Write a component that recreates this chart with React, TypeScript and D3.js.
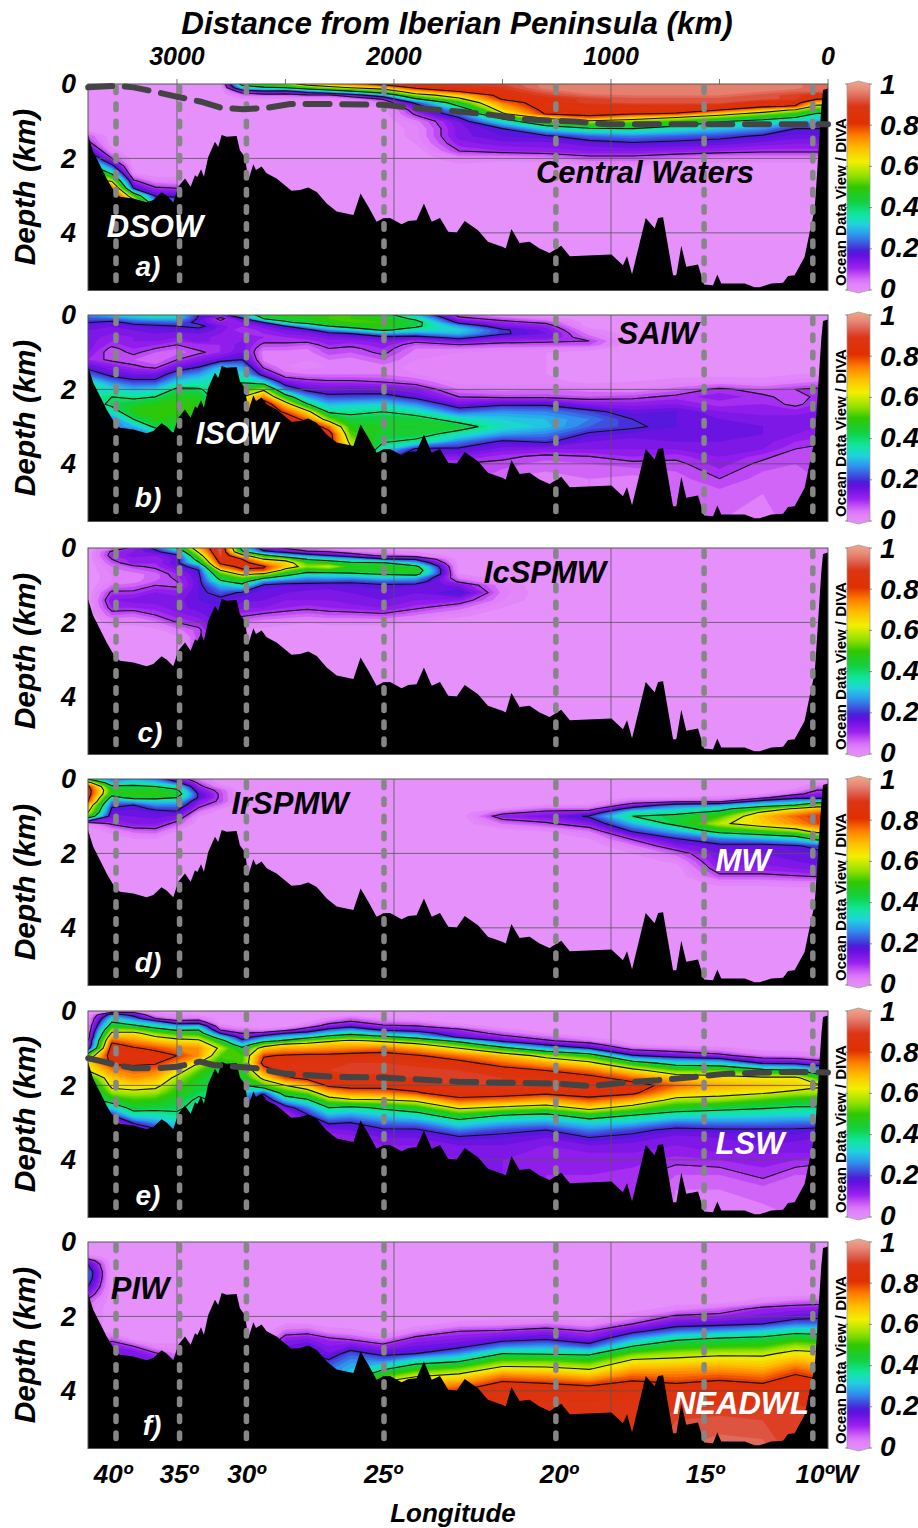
import React from "react";
import * as d3 from "d3";

type Profile = Record<number, number>;

// section geometry
const sectionKm = [3410, 3300, 3200, 3100, 3000, 2900, 2800, 2700, 2600, 2500, 2400, 2300, 2200, 2050, 1900, 1700, 1500, 1300, 1100, 900, 700, 500, 300, 150, 50, 0];
const depthRows = [0, 0.1, 0.2, 0.3, 0.4, 0.5, 0.6, 0.7, 0.8, 0.9, 1, 1.2, 1.4, 1.6, 1.8, 2, 2.2, 2.4, 2.6, 2.8, 3, 3.2, 3.4, 3.6, 3.8, 4, 4.4, 4.8, 5.55];

const bathyKm = [3410, 3386, 3355, 3324, 3293, 3263, 3201, 3140, 3109, 3071, 3048, 3017, 2994, 2963, 2937, 2917, 2906, 2889, 2876, 2856, 2825, 2810, 2794, 2771, 2725, 2710, 2687, 2671, 2648, 2636, 2610, 2587, 2541, 2472, 2433, 2395, 2356, 2310, 2264, 2187, 2154, 2118, 2080, 2049, 2018, 1965, 1934, 1896, 1862, 1826, 1788, 1750, 1711, 1674, 1613, 1567, 1498, 1485, 1459, 1421, 1375, 1329, 1283, 1229, 1190, 998, 945, 926, 903, 840, 799, 783, 760, 714, 699, 676, 653, 599, 571, 530, 510, 492, 384, 338, 315, 261, 207, 184, 154, 108, 84, 61, 46, 31, 23, 0];
const bathyDepth = [1.37, 1.82, 2.18, 2.54, 2.85, 3.03, 3.08, 3.18, 3.12, 2.91, 3.0, 3.18, 2.76, 2.54, 2.76, 2.45, 2.5, 2.29, 2.49, 1.96, 1.55, 1.69, 1.37, 1.42, 1.4, 1.78, 1.96, 2.58, 2.16, 2.31, 2.22, 2.4, 2.54, 2.87, 2.85, 2.78, 2.9, 3.21, 3.43, 3.52, 2.94, 3.3, 3.7, 3.61, 3.6, 3.77, 3.68, 3.66, 3.21, 3.7, 3.6, 3.97, 3.99, 3.68, 3.93, 4.24, 4.38, 4.42, 3.9, 4.27, 4.24, 4.42, 4.54, 4.35, 4.63, 4.58, 4.87, 4.63, 5.11, 3.6, 3.88, 3.6, 3.58, 5.14, 5.14, 4.35, 4.91, 4.85, 5.39, 5.41, 5.12, 5.36, 5.36, 5.46, 5.46, 5.36, 5.34, 5.16, 5.14, 4.65, 3.97, 3.35, 2.0, 0.65, 0.16, 0.12];

const lonLabels = ["40º", "35º", "30º", "25º", "20º", "15º", "10ºW"];
const lonKm = [3281, 2988, 2680, 2046, 1254, 571, 70];
const lonLabelKm = [3295, 2992, 2680, 2050, 1240, 567, 5];
const distanceTicks = [3000, 2000, 1000, 0];
const distanceMinor = [2500, 1500, 500];
const depthTicks = [0, 2, 4];
const barTicks = [0, 0.2, 0.4, 0.6, 0.8, 1];
const contourLevels = [0.1, 0.2, 0.4, 0.6, 0.8];

const dashAKm = [3409, 3278, 3201, 3124, 3002, 2894, 2802, 2694, 2587, 2479, 2280, 2049, 1896, 1705, 1551, 1398, 1167, 1014, 0];
const dashADepth = [0.09, 0.05, 0.09, 0.18, 0.34, 0.47, 0.63, 0.68, 0.64, 0.54, 0.54, 0.56, 0.65, 0.74, 0.83, 0.95, 1.01, 1.08, 1.08];
const dashEKm = [3409, 3355, 3278, 3201, 3094, 3002, 2894, 2833, 2771, 2679, 2633, 2510, 2280, 2049, 1705, 1551, 1244, 1091, 937, 783, 630, 476, 169, 0];
const dashEDepth = [1.27, 1.34, 1.45, 1.54, 1.54, 1.5, 1.36, 1.45, 1.48, 1.52, 1.54, 1.68, 1.77, 1.79, 1.9, 1.92, 1.95, 2.02, 1.92, 1.86, 1.78, 1.69, 1.63, 1.65];

// fractions x100, one profile per sectionKm entry, {depth: value}; a missing depth keeps the value above it
const panelA: Profile[] = [
  { 1.4: 8, 1.6: 12, 1.8: 20, 2: 30, 2.2: 45, 2.4: 60, 2.6: 70, 2.8: 80, 3: 88 },
  { 1.8: 3, 2: 10, 2.2: 22, 2.4: 38, 2.6: 58, 2.8: 78, 3: 88 },
  { 2.4: 2, 2.6: 11, 2.8: 20, 3: 50, 3.2: 70 },
  { 2.6: 4, 2.8: 11, 3: 19, 3.2: 30 },
  { 2.6: 3, 2.8: 10, 3: 18, 3.2: 28 },
  {},
  {},
  { 0: 45, 0.1: 32, 0.2: 13, 0.3: 6, 0.4: 2, 0.5: 0 },
  { 0: 50, 0.1: 38, 0.2: 18, 0.3: 7, 0.4: 2, 0.5: 0 },
  { 0: 55, 0.1: 40, 0.2: 16, 0.3: 7, 0.4: 2, 0.5: 0 },
  { 0: 65, 0.1: 48, 0.2: 24, 0.3: 9, 0.4: 3, 0.5: 0 },
  { 0: 70, 0.1: 55, 0.2: 30, 0.3: 9, 0.4: 3, 0.5: 0 },
  { 0: 75, 0.1: 60, 0.2: 38, 0.3: 14, 0.4: 5, 0.5: 2, 0.6: 0 },
  { 0: 84, 0.1: 66, 0.2: 50, 0.3: 28, 0.4: 11, 0.5: 5, 0.6: 3, 0.7: 0 },
  { 0: 88, 0.1: 82, 0.2: 68, 0.3: 55, 0.4: 39, 0.5: 22, 0.6: 16, 0.7: 13, 0.8: 11, 0.9: 8, 1: 5, 1.2: 3, 1.6: 2, 1.8: 0 },
  { 0: 88, 0.1: 86, 0.2: 80, 0.3: 66, 0.4: 58, 0.5: 47, 0.6: 40, 0.7: 30, 0.8: 25, 0.9: 20, 1: 16, 1.2: 15, 1.6: 13, 1.8: 10, 2: 4, 2.2: 1, 2.4: 0 },
  { 0: 90, 0.1: 88, 0.2: 86, 0.3: 84, 0.4: 81, 0.5: 75, 0.6: 70, 0.7: 65, 0.8: 58, 0.9: 43, 1: 35, 1.2: 20, 1.4: 18, 1.6: 15, 1.8: 12, 2: 3, 2.2: 0 },
  { 0: 95, 0.2: 92, 0.3: 89, 0.4: 86, 0.5: 85, 0.7: 83, 0.8: 81, 0.9: 64, 1: 50, 1.2: 33, 1.4: 19, 1.6: 15, 1.8: 13, 2: 4, 2.2: 0 },
  { 0: 96, 0.3: 93, 0.4: 89, 0.6: 86, 0.7: 85, 0.8: 83, 0.9: 77, 1: 58, 1.2: 39, 1.4: 24, 1.6: 17, 1.8: 14, 2: 8, 2.2: 2, 2.4: 0 },
  { 0: 96, 0.3: 94, 0.4: 91, 0.6: 85, 0.8: 81, 0.9: 67, 1: 54, 1.2: 40, 1.4: 26, 1.6: 19, 1.8: 14, 2: 8, 2.2: 2, 2.4: 0 },
  { 0: 96, 0.3: 94, 0.4: 91, 0.6: 86, 0.7: 84, 0.8: 79, 0.9: 60, 1: 50, 1.2: 35, 1.4: 24, 1.6: 18, 1.8: 13, 2: 6, 2.2: 0 },
  { 0: 96, 0.3: 94, 0.4: 91, 0.6: 84, 0.7: 80, 0.8: 65, 0.9: 53, 1: 41, 1.2: 31, 1.4: 22, 1.6: 17, 1.8: 12, 2: 4, 2.2: 0 },
  { 0: 96, 0.2: 94, 0.3: 91, 0.5: 84, 0.6: 82, 0.7: 68, 0.8: 55, 0.9: 45, 1: 37, 1.2: 27, 1.4: 19, 1.6: 15, 1.8: 11, 2: 4, 2.2: 0 },
  { 0: 95, 0.2: 92, 0.3: 89, 0.5: 84, 0.6: 79, 0.7: 58, 0.8: 49, 0.9: 40, 1: 32, 1.2: 20, 1.4: 17, 1.6: 14, 1.8: 11, 2: 4, 2.2: 0 },
  { 0: 92, 0.3: 85, 0.4: 81, 0.5: 68, 0.6: 56, 0.7: 48, 0.8: 39, 0.9: 33, 1: 29, 1.2: 20, 1.4: 17, 1.6: 14, 1.8: 11, 2: 4, 2.2: 0 },
  { 0: 92, 0.3: 85, 0.4: 81, 0.5: 68, 0.6: 56, 0.7: 48, 0.8: 39, 0.9: 33, 1: 29, 1.2: 20, 1.4: 17, 1.6: 14, 1.8: 11, 2: 4, 2.2: 0 },
];

const panelB: Profile[] = [
  { 0: 27, 0.1: 23, 0.2: 20, 0.3: 17, 0.4: 16, 0.5: 15, 1: 14, 1.2: 12, 1.4: 18, 1.6: 25, 1.8: 35 },
  { 0: 32, 0.1: 24, 0.2: 18, 0.3: 16, 0.4: 15, 0.5: 14, 0.6: 13, 0.7: 12, 0.8: 11, 0.9: 9, 1: 8, 1.2: 9, 1.4: 14, 1.6: 18, 1.8: 26, 2: 34, 2.2: 40, 2.4: 42, 2.6: 35, 2.8: 25 },
  { 0: 35, 0.1: 28, 0.2: 22, 0.3: 18, 0.4: 16, 0.5: 15, 0.6: 14, 0.8: 13, 0.9: 12, 1: 11, 1.2: 8, 1.4: 11, 1.6: 16, 1.8: 22, 2: 30, 2.2: 38, 2.4: 45, 2.6: 48, 2.8: 40, 3: 30, 3.2: 20 },
  { 0: 38, 0.1: 30, 0.2: 23, 0.3: 19, 0.4: 17, 0.5: 16, 0.6: 15, 0.7: 14, 0.8: 12, 0.9: 10, 1: 8, 1.2: 6, 1.4: 9, 1.6: 16, 1.8: 22, 2: 32, 2.2: 40, 2.4: 48, 2.6: 50, 2.8: 48, 3: 42, 3.2: 30 },
  { 0: 36, 0.1: 30, 0.2: 24, 0.3: 20, 0.4: 17, 0.5: 15, 0.6: 14, 0.7: 12, 0.8: 10, 0.9: 8, 1: 7, 1.2: 10, 1.4: 16, 1.6: 24, 1.8: 32, 2: 42, 2.2: 47, 2.4: 49, 2.8: 47, 3: 45, 3.2: 40 },
  { 0: 20, 0.1: 19, 0.2: 18, 0.3: 22, 0.4: 18, 0.5: 16, 0.6: 15, 0.8: 11, 1: 9, 1.2: 14, 1.4: 20, 1.6: 28, 1.8: 35, 2: 41, 2.2: 46, 2.4: 48 },
  { 0: 15, 0.1: 8, 0.2: 12, 0.3: 15, 0.5: 14, 0.6: 13, 0.8: 12, 1: 12, 1.2: 17, 1.4: 30, 1.6: 35 },
  { 0: 30, 0.1: 18, 0.2: 14, 0.3: 12, 0.4: 10, 0.5: 12, 0.6: 14, 0.8: 15, 1: 16, 1.2: 20, 1.4: 28, 1.6: 33, 1.8: 39, 2: 48, 2.2: 60 },
  { 0: 46, 0.1: 40, 0.2: 20, 0.3: 15, 0.4: 13, 0.5: 12, 0.7: 11, 0.8: 9, 0.9: 7, 1: 5, 1.4: 9, 1.6: 17, 1.8: 33, 2: 58, 2.2: 73, 2.4: 88 },
  { 0: 48, 0.1: 44, 0.2: 38, 0.3: 20, 0.4: 16, 0.5: 14, 0.6: 12, 0.7: 11, 0.8: 9, 0.9: 7, 1: 5, 1.2: 4, 1.6: 7, 1.8: 15, 2: 26, 2.2: 46, 2.4: 66, 2.6: 78, 2.8: 88 },
  { 0: 48, 0.1: 47, 0.2: 44, 0.3: 30, 0.4: 18, 0.5: 15, 0.6: 13, 0.7: 11, 0.8: 8, 0.9: 6, 1: 5, 1.2: 4, 1.4: 3, 1.6: 6, 1.8: 12, 2: 18, 2.2: 28, 2.4: 41, 2.6: 64, 2.8: 76, 3: 88 },
  { 0: 50, 0.2: 48, 0.3: 40, 0.4: 27, 0.5: 18, 0.6: 15, 0.7: 13, 0.8: 12, 0.9: 10, 1: 9, 1.2: 6, 1.4: 4, 1.6: 6, 1.8: 11, 2: 16, 2.2: 22, 2.4: 30, 2.6: 38, 2.8: 54, 3: 75, 3.2: 85 },
  { 0: 50, 0.3: 45, 0.4: 32, 0.5: 20, 0.6: 16, 0.7: 13, 0.8: 11, 0.9: 9, 1: 8, 1.2: 5, 1.4: 4, 1.6: 6, 1.8: 11, 2: 17, 2.2: 22, 2.4: 31, 2.6: 38, 2.8: 43, 3: 48, 3.2: 52, 3.4: 57, 3.6: 62 },
  { 0: 45, 0.1: 47, 0.2: 50, 0.3: 48, 0.4: 42, 0.5: 28, 0.6: 18, 0.7: 15, 0.8: 13, 0.9: 12, 1: 11, 1.2: 8, 1.4: 5, 1.6: 6, 1.8: 10, 2: 16, 2.2: 23, 2.4: 32, 2.6: 40, 2.8: 44, 3: 46, 3.2: 44, 3.4: 41, 3.6: 34, 3.8: 25 },
  { 0: 30, 0.1: 38, 0.2: 44, 0.3: 42, 0.4: 35, 0.5: 26, 0.6: 17, 0.7: 11, 0.8: 8, 0.9: 6, 1: 5, 1.2: 4, 1.4: 3, 1.6: 4, 1.8: 8, 2: 14, 2.2: 18, 2.4: 27, 2.6: 36, 2.8: 44, 3: 46, 3.2: 44, 3.4: 38, 3.6: 19, 3.8: 14, 4: 10 },
  { 0: 8, 0.1: 12, 0.2: 18, 0.3: 28, 0.4: 33, 0.5: 30, 0.6: 23, 0.7: 15, 0.8: 10, 0.9: 6, 1: 4, 1.2: 3, 1.4: 2, 1.8: 3, 2: 6, 2.2: 10, 2.4: 16, 2.6: 24, 2.8: 36, 3: 44, 3.2: 36, 3.4: 26, 3.6: 19, 3.8: 14, 4: 10 },
  { 0: 3, 0.1: 8, 0.2: 12, 0.3: 15, 0.4: 21, 0.6: 15, 0.7: 12, 0.8: 8, 0.9: 5, 1: 3, 1.4: 2, 1.8: 3, 2: 5, 2.2: 9, 2.4: 19, 2.6: 27, 2.8: 32, 3: 35, 3.2: 28, 3.4: 19, 3.6: 15, 3.8: 11, 4: 9, 4.4: 6 },
  { 0: 0, 0.1: 4, 0.2: 9, 0.3: 13, 0.4: 15, 0.5: 16, 0.6: 15, 0.7: 11, 0.8: 8, 0.9: 4, 1: 2, 1.8: 3, 2: 6, 2.2: 9, 2.4: 19, 2.6: 26, 2.8: 30, 3: 31, 3.2: 26, 3.4: 21, 3.6: 14, 3.8: 9, 4: 7, 4.4: 5 },
  { 0.4: 3, 0.5: 5, 0.6: 7, 0.7: 10, 0.8: 8, 0.9: 3, 1: 1, 2: 5, 2.2: 8, 2.4: 14, 2.6: 22, 2.8: 26, 3: 24, 3.2: 19, 3.4: 16, 3.6: 14, 3.8: 10, 4: 8, 4.4: 6 },
  { 1.4: 1, 1.8: 2, 2: 4, 2.2: 9, 2.4: 13, 2.6: 17, 2.8: 20, 3: 21, 3.2: 17, 3.4: 15, 3.6: 14, 3.8: 12, 4: 9, 4.4: 5 },
  { 1.4: 1, 1.8: 3, 2: 7, 2.2: 11, 2.4: 14, 2.6: 18, 3.2: 17, 3.4: 16, 3.6: 14, 3.8: 11, 4: 9, 4.4: 7 },
  { 1.6: 1, 1.8: 4, 2: 11, 2.2: 13, 2.4: 11, 2.6: 14, 2.8: 16, 3: 17, 3.4: 16, 3.6: 15, 3.8: 14, 4: 13, 4.4: 10, 4.8: 7, 5.55: 6 },
  { 1.6: 1, 1.8: 3, 2: 8, 2.2: 11, 2.4: 12, 2.6: 13, 2.8: 15, 3: 16, 3.4: 15, 3.6: 14, 3.8: 11, 4: 9, 4.4: 7, 4.8: 6, 5.55: 5 },
  { 1.6: 2, 1.8: 5, 2: 10, 2.2: 8, 2.4: 9, 2.6: 13, 2.8: 15, 3.2: 14, 3.4: 12, 3.6: 10, 3.8: 8, 4.4: 7 },
  { 1.6: 2, 1.8: 6, 2: 11, 2.4: 12, 2.6: 14, 2.8: 15, 3: 14, 3.2: 13, 3.4: 11, 3.6: 9, 3.8: 8 },
  { 1.6: 2, 1.8: 6, 2: 11, 2.4: 12, 2.6: 14, 2.8: 15, 3: 14, 3.2: 13, 3.4: 11, 3.6: 9, 3.8: 8 },
];

const panelC: Profile[] = [
  {},
  { 0: 5, 0.1: 11, 0.2: 12, 0.3: 10, 0.4: 8, 0.5: 6, 0.6: 5, 0.7: 4, 1: 6, 1.2: 11, 1.4: 14, 1.6: 12, 1.8: 8, 2: 3, 2.2: 0 },
  { 0: 12, 0.1: 14, 0.2: 15, 0.3: 13, 0.5: 9, 0.6: 7, 0.7: 5, 1: 7, 1.2: 11, 1.4: 15, 1.6: 12, 1.8: 7, 2: 3, 2.2: 0 },
  { 0: 22, 0.1: 18, 0.2: 14, 0.3: 12, 0.5: 11, 0.6: 9, 0.7: 7, 0.9: 8, 1: 10, 1.2: 14, 1.4: 15, 1.6: 13, 1.8: 10, 2: 5, 2.2: 1, 2.4: 0 },
  { 0: 40, 0.1: 28, 0.2: 18, 0.3: 17, 0.4: 18, 0.5: 16, 0.6: 14, 0.7: 12, 0.8: 11, 0.9: 10, 1: 9, 1.2: 13, 1.4: 15, 1.8: 13, 2: 10, 2.2: 5, 2.4: 1 },
  { 0: 68, 0.1: 62, 0.2: 54, 0.3: 46, 0.4: 38, 0.5: 25, 0.6: 20, 0.7: 19, 0.8: 18, 1.6: 17, 1.8: 15, 2: 12, 2.2: 9 },
  { 0: 92, 0.2: 90, 0.3: 87, 0.4: 82, 0.5: 74, 0.6: 60, 0.7: 50, 0.8: 44, 0.9: 38, 1: 30, 1.2: 23, 1.4: 18 },
  { 0: 35, 0.1: 42, 0.2: 65, 0.3: 80, 0.4: 84, 0.5: 83, 0.6: 78, 0.7: 63, 0.8: 52, 0.9: 45, 1: 37, 1.2: 19, 1.4: 17, 1.6: 14, 1.8: 11, 2: 6, 2.2: 2 },
  { 0: 15, 0.1: 22, 0.2: 44, 0.3: 60, 0.4: 72, 0.5: 81, 0.6: 78, 0.7: 58, 0.8: 42, 0.9: 27, 1: 19, 1.2: 17, 1.4: 16, 1.6: 14, 1.8: 9, 2: 4, 2.2: 1, 2.4: 0 },
  { 0: 9, 0.1: 18, 0.2: 30, 0.3: 55, 0.4: 66, 0.5: 67, 0.6: 55, 0.7: 45, 0.8: 34, 0.9: 23, 1: 18, 1.2: 16, 1.4: 14, 1.6: 12, 1.8: 8, 2: 3, 2.2: 0 },
  { 0: 5, 0.1: 11, 0.2: 25, 0.3: 39, 0.4: 50, 0.5: 55, 0.6: 45, 0.7: 36, 0.8: 28, 0.9: 22, 1: 18, 1.2: 15, 1.4: 14, 1.6: 11, 1.8: 7, 2: 2, 2.2: 0 },
  { 0: 3, 0.1: 10, 0.2: 20, 0.3: 35, 0.4: 47, 0.5: 59, 0.6: 47, 0.7: 36, 0.8: 29, 0.9: 22, 1: 17, 1.2: 15, 1.4: 14, 1.6: 12, 1.8: 8, 2: 3, 2.2: 0 },
  { 0: 2, 0.1: 6, 0.2: 15, 0.3: 30, 0.4: 42, 0.5: 48, 0.6: 46, 0.7: 38, 0.8: 28, 0.9: 21, 1: 18, 1.2: 16, 1.4: 15, 1.6: 13, 1.8: 8, 2: 3, 2.2: 0 },
  { 0: 0, 0.1: 4, 0.2: 8, 0.3: 21, 0.4: 41, 0.5: 47, 0.6: 46, 0.7: 41, 0.8: 32, 0.9: 24, 1: 19, 1.2: 17, 1.4: 16, 1.6: 14, 1.8: 9, 2: 3, 2.2: 0 },
  { 0: 0, 0.1: 2, 0.2: 6, 0.3: 19, 0.4: 30, 0.5: 43, 0.6: 48, 0.7: 44, 0.8: 30, 0.9: 24, 1: 18, 1.2: 16, 1.4: 14, 1.6: 11, 1.8: 6, 2: 2, 2.2: 0 },
  { 0.7: 2, 0.8: 5, 0.9: 9, 1: 15, 1.2: 20, 1.4: 13, 1.6: 7, 1.8: 3, 2: 0 },
  { 0.9: 1, 1: 4, 1.2: 5, 1.4: 4, 1.6: 2, 1.8: 0 },
  {},
  {},
  {},
  {},
  {},
  {},
  {},
  {},
  {},
];

const panelD: Profile[] = [
  { 0: 40, 0.1: 65, 0.2: 82, 0.3: 85, 0.5: 83, 0.6: 80, 0.7: 70, 0.8: 65, 0.9: 60, 1: 50, 1.2: 3, 1.4: 0 },
  { 0: 25, 0.1: 30, 0.2: 42, 0.3: 47, 0.4: 45, 0.5: 36, 0.6: 27, 0.7: 22, 0.8: 19, 0.9: 17, 1: 15, 1.2: 11, 1.4: 3, 1.6: 0 },
  { 0: 28, 0.1: 35, 0.2: 42, 0.3: 47, 0.4: 48, 0.5: 44, 0.6: 30, 0.7: 20, 0.8: 18, 0.9: 17, 1: 16, 1.2: 14, 1.4: 7, 1.6: 2, 1.8: 0 },
  { 0: 25, 0.1: 32, 0.2: 40, 0.3: 47, 0.4: 49, 0.5: 44, 0.6: 32, 0.7: 27, 0.8: 21, 0.9: 18, 1: 17, 1.2: 14, 1.4: 8, 1.6: 2, 1.8: 0 },
  { 0: 15, 0.1: 22, 0.2: 34, 0.3: 42, 0.4: 46, 0.5: 40, 0.6: 32, 0.7: 26, 0.8: 22, 0.9: 19, 1: 15, 1.2: 8, 1.4: 2, 1.6: 0 },
  { 0: 5, 0.1: 9, 0.2: 12, 0.3: 15, 0.4: 19, 0.6: 14, 0.7: 12, 0.8: 9, 0.9: 5, 1: 2, 1.2: 0 },
  { 0.2: 3, 0.3: 8, 0.4: 9, 0.7: 6, 0.8: 2, 0.9: 0 },
  {},
  {},
  {},
  {},
  {},
  {},
  {},
  {},
  {},
  { 0.8: 2, 0.9: 8, 1: 13, 1.2: 6, 1.4: 0 },
  { 0.7: 2, 0.8: 7, 0.9: 12, 1: 15, 1.2: 9, 1.4: 2, 1.6: 0 },
  { 0.7: 2, 0.8: 7, 0.9: 14, 1: 21, 1.2: 14, 1.4: 6, 1.6: 2, 1.8: 0 },
  { 0.5: 2, 0.6: 7, 0.7: 13, 0.8: 24, 0.9: 35, 1: 40, 1.2: 30, 1.4: 21, 1.6: 11, 1.8: 5, 2: 2, 2.2: 0 },
  { 0.5: 2, 0.6: 8, 0.7: 24, 0.8: 31, 0.9: 37, 1: 43, 1.4: 30, 1.6: 20, 1.8: 14, 2: 7, 2.2: 3, 2.4: 0 },
  { 0.5: 3, 0.6: 8, 0.7: 27, 0.8: 36, 0.9: 43, 1: 50, 1.2: 58, 1.4: 44, 1.6: 26, 1.8: 18, 2: 16, 2.2: 15, 2.4: 13, 2.6: 9, 2.8: 3, 3: 0 },
  { 0.4: 2, 0.5: 8, 0.6: 24, 0.7: 34, 0.8: 50, 0.9: 62, 1: 68, 1.2: 66, 1.4: 50, 1.6: 30, 1.8: 17, 2: 16, 2.2: 15, 2.4: 13, 2.6: 9, 2.8: 3, 3: 0 },
  { 0.3: 3, 0.4: 8, 0.5: 18, 0.6: 28, 0.7: 40, 0.8: 62, 0.9: 70, 1: 76, 1.2: 72, 1.4: 55, 1.6: 34, 1.8: 19, 2: 17, 2.2: 16, 2.4: 14, 2.6: 10, 2.8: 4, 3: 0 },
  { 0.1: 2, 0.2: 6, 0.3: 10, 0.4: 13, 0.5: 17, 0.6: 32, 0.7: 52, 0.8: 68, 0.9: 75, 1: 80, 1.2: 78, 1.4: 64, 1.6: 44, 1.8: 22, 2: 18, 2.2: 17, 2.4: 15, 2.6: 11, 2.8: 4, 3: 0 },
  { 0.1: 2, 0.2: 6, 0.3: 10, 0.4: 13, 0.5: 17, 0.6: 32, 0.7: 52, 0.8: 68, 0.9: 75, 1: 80, 1.2: 78, 1.4: 64, 1.6: 44, 1.8: 22, 2: 18, 2.2: 17, 2.4: 15, 2.6: 11, 2.8: 4, 3: 0 },
];

const panelE: Profile[] = [
  { 0.2: 2, 0.4: 4, 0.6: 6, 0.8: 10, 1: 15, 1.2: 50, 1.4: 65, 1.6: 60, 1.8: 45, 2: 35 },
  { 0: 2, 0.1: 25, 0.2: 33, 0.3: 40, 0.4: 46, 0.5: 55, 0.6: 62, 0.7: 70, 0.8: 77, 0.9: 82, 1: 86, 1.2: 87, 1.4: 82, 1.6: 73, 1.8: 67, 2: 63, 2.2: 55, 2.4: 45, 2.6: 32, 2.8: 20, 3: 10 },
  { 0: 5, 0.1: 17, 0.2: 25, 0.3: 33, 0.4: 42, 0.5: 53, 0.6: 63, 0.7: 68, 0.8: 72, 0.9: 77, 1: 81, 1.2: 86, 1.4: 82, 1.6: 76, 1.8: 72, 2: 65, 2.2: 57, 2.4: 50, 2.6: 44, 2.8: 35, 3: 21, 3.2: 12 },
  { 0: 1, 0.1: 4, 0.2: 10, 0.3: 26, 0.4: 35, 0.5: 44, 0.6: 54, 0.7: 61, 0.8: 67, 0.9: 73, 1: 78, 1.2: 84, 1.4: 81, 1.6: 75, 1.8: 69, 2: 63, 2.2: 56, 2.4: 49, 2.6: 43, 2.8: 35, 3: 27, 3.2: 18 },
  { 0: 1, 0.1: 2, 0.2: 5, 0.3: 14, 0.4: 28, 0.5: 38, 0.6: 48, 0.7: 56, 0.8: 64, 0.9: 69, 1: 74, 1.2: 80, 1.4: 73, 1.6: 65, 1.8: 57, 2: 52, 2.2: 48, 2.4: 45, 2.6: 42, 2.8: 38, 3: 33, 3.2: 28 },
  { 0.1: 1, 0.2: 6, 0.3: 15, 0.4: 30, 0.5: 39, 0.6: 46, 0.7: 55, 0.8: 62, 0.9: 68, 1: 72, 1.4: 60, 1.6: 52, 1.8: 47, 2: 45, 2.2: 42, 2.4: 38, 2.6: 36 },
  { 0.4: 4, 0.5: 9, 0.6: 20, 0.7: 33, 0.8: 45, 0.9: 52, 1: 58, 1.2: 52, 1.4: 46, 1.6: 42 },
  { 0.5: 5, 0.6: 10, 0.7: 16, 0.8: 22, 0.9: 32, 1: 43, 1.2: 50, 1.6: 48, 1.8: 44, 2: 38, 2.2: 32, 2.4: 25 },
  { 0.5: 3, 0.6: 13, 0.7: 25, 0.8: 36, 0.9: 52, 1: 66, 1.2: 79, 1.4: 84, 1.6: 74, 1.8: 63, 2: 50, 2.2: 22, 2.4: 12 },
  { 0.5: 7, 0.6: 20, 0.7: 31, 0.8: 42, 0.9: 62, 1: 70, 1.2: 81, 1.4: 86, 1.6: 85, 1.8: 78, 2: 60, 2.2: 47, 2.4: 31, 2.6: 16, 2.8: 10 },
  { 0.3: 2, 0.4: 6, 0.5: 14, 0.6: 24, 0.7: 36, 0.8: 52, 0.9: 64, 1: 70, 1.2: 82, 1.4: 87, 1.8: 83, 2: 68, 2.2: 53, 2.4: 38, 2.6: 26, 2.8: 19, 3: 14 },
  { 0.2: 3, 0.3: 8, 0.4: 13, 0.5: 22, 0.6: 32, 0.7: 44, 0.8: 58, 0.9: 67, 1: 72, 1.2: 82, 1.4: 87, 1.6: 88, 1.8: 86, 2: 82, 2.2: 68, 2.4: 54, 2.6: 40, 2.8: 30, 3: 21, 3.2: 15, 3.4: 12 },
  { 0.2: 7, 0.3: 11, 0.4: 17, 0.5: 27, 0.6: 37, 0.7: 48, 0.8: 62, 0.9: 68, 1: 73, 1.2: 83, 1.4: 88, 1.6: 89, 1.8: 87, 2: 84, 2.2: 73, 2.4: 58, 2.6: 37, 2.8: 28, 3: 20, 3.2: 16, 3.4: 13, 3.6: 11 },
  { 0.2: 2, 0.3: 7, 0.4: 11, 0.5: 18, 0.6: 30, 0.7: 43, 0.8: 58, 0.9: 67, 1: 75, 1.2: 84, 1.4: 88, 1.6: 89, 1.8: 87, 2: 84, 2.2: 74, 2.4: 59, 2.6: 42, 2.8: 32, 3: 25, 3.2: 19, 3.4: 16, 3.6: 14, 3.8: 13 },
  { 0.3: 6, 0.4: 10, 0.5: 16, 0.6: 25, 0.7: 36, 0.8: 50, 0.9: 63, 1: 70, 1.2: 81, 1.4: 87, 1.6: 89, 1.8: 88, 2: 84, 2.2: 79, 2.4: 62, 2.6: 47, 2.8: 35, 3: 26, 3.2: 19, 3.4: 16, 3.6: 14, 3.8: 13 },
  { 0.4: 4, 0.5: 11, 0.6: 14, 0.7: 18, 0.8: 36, 0.9: 49, 1: 60, 1.2: 75, 1.4: 83, 1.6: 88, 1.8: 89, 2: 88, 2.2: 85, 2.4: 77, 2.6: 62, 2.8: 47, 3: 35, 3.2: 26, 3.4: 19, 3.6: 16, 3.8: 15, 4: 14 },
  { 0.5: 3, 0.6: 8, 0.7: 12, 0.8: 18, 0.9: 30, 1: 44, 1.2: 68, 1.4: 76, 1.6: 84, 1.8: 88, 2.2: 85, 2.4: 74, 2.6: 58, 2.8: 40, 3: 30, 3.2: 22, 3.4: 18, 3.6: 16, 3.8: 15, 4: 14 },
  { 0.6: 2, 0.7: 7, 0.8: 11, 0.9: 19, 1: 29, 1.2: 56, 1.4: 70, 1.6: 80, 1.8: 86, 2: 87, 2.2: 82, 2.4: 70, 2.6: 54, 2.8: 37, 3: 28, 3.2: 20, 3.4: 16, 3.6: 14, 3.8: 13, 4.4: 12 },
  { 0.7: 2, 0.8: 6, 0.9: 13, 1: 20, 1.2: 47, 1.4: 63, 1.6: 75, 1.8: 83, 2: 86, 2.2: 84, 2.4: 77, 2.6: 64, 2.8: 47, 3: 33, 3.2: 26, 3.4: 20, 3.6: 16, 3.8: 14, 4: 13, 4.4: 12, 4.8: 11 },
  { 0.9: 2, 1: 7, 1.2: 21, 1.4: 46, 1.6: 64, 1.8: 76, 2: 84, 2.2: 82, 2.4: 70, 2.6: 55, 2.8: 40, 3: 31, 3.2: 22, 3.4: 18, 3.6: 15, 3.8: 14, 4: 13, 4.4: 11 },
  { 1: 5, 1.2: 16, 1.4: 35, 1.6: 52, 1.8: 67, 2: 76, 2.2: 68, 2.4: 56, 2.6: 46, 2.8: 35, 3: 25, 3.2: 18, 3.4: 15, 3.6: 14, 3.8: 13, 4: 11, 4.4: 8, 4.8: 6, 5.55: 5 },
  { 1: 3, 1.2: 12, 1.4: 33, 1.6: 52, 1.8: 64, 2: 70, 2.2: 64, 2.4: 55, 2.6: 43, 2.8: 34, 3: 26, 3.2: 19, 3.4: 16, 3.6: 15, 3.8: 14, 4: 12, 4.4: 8, 4.8: 6, 5.55: 5 },
  { 1.2: 6, 1.4: 19, 1.6: 44, 1.8: 62, 2: 68, 2.2: 61, 2.4: 50, 2.6: 41, 2.8: 33, 3: 26, 3.2: 19, 3.4: 17, 3.6: 16, 3.8: 14, 4: 13, 4.4: 11, 4.8: 7, 5.55: 5 },
  { 1.2: 5, 1.4: 18, 1.6: 41, 1.8: 63, 2: 66, 2.2: 57, 2.4: 47, 2.6: 39, 2.8: 32, 3: 25, 3.2: 19, 3.4: 17, 3.6: 15, 3.8: 14, 4: 12, 4.4: 8, 4.8: 6 },
  { 1.2: 3, 1.4: 14, 1.6: 32, 1.8: 50, 2: 62, 2.2: 56, 2.4: 46, 2.6: 39, 2.8: 32, 3: 25, 3.2: 18, 3.4: 16, 3.6: 15, 3.8: 14, 4: 11, 4.4: 8, 4.8: 6 },
  { 1.2: 3, 1.4: 14, 1.6: 32, 1.8: 50, 2: 62, 2.2: 56, 2.4: 46, 2.6: 39, 2.8: 32, 3: 25, 3.2: 18, 3.4: 16, 3.6: 15, 3.8: 14, 4: 11, 4.4: 8, 4.8: 6 },
];

const panelF: Profile[] = [
  { 0.4: 5, 0.5: 14, 0.6: 20, 0.7: 22, 0.8: 25, 1: 24, 1.2: 20, 1.4: 14, 1.6: 8, 1.8: 5 },
  { 2.4: 0, 2.6: 8, 2.8: 14 },
  { 2.6: 0, 2.8: 10, 3: 16 },
  { 2.6: 0, 2.8: 3, 3: 11, 3.2: 15 },
  { 2.8: 3, 3: 5, 3.2: 8 },
  {},
  {},
  {},
  {},
  { 2.2: 2, 2.4: 7, 2.6: 13, 2.8: 16, 3: 18 },
  { 2.2: 2, 2.4: 8, 2.6: 14, 2.8: 18, 3: 20 },
  { 2.4: 4, 2.6: 11, 2.8: 14, 3: 16, 3.2: 21, 3.4: 25 },
  { 2.4: 3, 2.6: 9, 2.8: 16, 3: 23, 3.2: 27, 3.4: 30, 3.6: 33 },
  { 2.6: 5, 2.8: 12, 3: 18, 3.2: 26, 3.4: 38, 3.6: 50, 3.8: 63 },
  { 2.4: 5, 2.6: 12, 2.8: 16, 3: 20, 3.2: 35, 3.4: 47, 3.6: 59, 3.8: 68, 4: 75 },
  { 2.2: 3, 2.4: 10, 2.6: 14, 2.8: 18, 3: 27, 3.2: 39, 3.4: 52, 3.6: 63, 3.8: 72, 4: 80, 4.4: 88 },
  { 2.2: 4, 2.4: 11, 2.6: 17, 2.8: 26, 3: 40, 3.2: 52, 3.4: 63, 3.6: 74, 3.8: 82, 4: 85, 4.4: 87, 4.8: 88 },
  { 2.2: 6, 2.4: 13, 2.6: 19, 2.8: 28, 3: 39, 3.2: 52, 3.4: 62, 3.6: 72, 3.8: 80, 4: 84, 4.4: 87 },
  { 2.2: 3, 2.4: 10, 2.6: 15, 2.8: 23, 3: 38, 3.2: 49, 3.4: 59, 3.6: 68, 3.8: 78, 4: 84, 4.4: 87 },
  { 2: 4, 2.2: 10, 2.4: 18, 2.6: 28, 2.8: 40, 3: 52, 3.2: 62, 3.4: 69, 3.6: 76, 3.8: 82, 4: 85, 4.4: 87 },
  { 1.8: 4, 2: 11, 2.2: 17, 2.4: 25, 2.6: 38, 2.8: 47, 3: 56, 3.2: 63, 3.4: 70, 3.6: 75, 3.8: 80, 4: 84, 4.4: 87, 4.8: 90, 5.55: 92 },
  { 1.8: 7, 2: 12, 2.2: 18, 2.4: 28, 2.6: 41, 2.8: 49, 3: 58, 3.2: 65, 3.4: 71, 3.6: 77, 3.8: 82, 4: 84, 4.4: 88, 4.8: 91, 5.55: 93 },
  { 1.6: 4, 1.8: 12, 2: 15, 2.2: 20, 2.4: 32, 2.6: 43, 2.8: 50, 3: 58, 3.2: 64, 3.4: 69, 3.6: 75, 3.8: 80, 4: 84, 4.4: 87, 4.8: 90, 5.55: 93 },
  { 1.6: 7, 1.8: 13, 2: 17, 2.2: 25, 2.4: 37, 2.6: 47, 2.8: 56, 3: 63, 3.2: 69, 3.4: 76, 3.6: 81, 3.8: 84, 4.4: 88 },
  { 1.6: 8, 1.8: 13, 2: 18, 2.2: 25, 2.4: 36, 2.6: 46, 2.8: 54, 3: 62, 3.2: 67, 3.4: 72, 3.6: 78, 3.8: 83, 4.4: 88 },
  { 1.6: 8, 1.8: 13, 2: 18, 2.2: 25, 2.4: 36, 2.6: 46, 2.8: 54, 3: 62, 3.2: 67, 3.4: 72, 3.6: 78, 3.8: 83, 4.4: 88 },
];

const colorStops = [0, 0.05, 0.08, 0.12, 0.18, 0.2, 0.24, 0.27, 0.32, 0.37, 0.43, 0.5, 0.55, 0.62, 0.68, 0.74, 0.8, 0.88, 0.92, 0.96, 1];
const colorValues = ["#e590fb", "#e080fa", "#c858f6", "#9a20ee", "#6010e0", "#4a20d8", "#3a60e0", "#3090f0", "#20d0e0", "#10e8a0", "#10d040", "#30c800", "#90e000", "#f0f000", "#ffc000", "#ff8000", "#e03000", "#dc3414", "#dd6050", "#e88a78", "#f0a888"];

const panelTops = [84, 315, 548, 779, 1011, 1242];
const panelHeight = 206.5;
const plotLeft = 88;
const plotRight = 828;

const panels = [
  { id: "a", cols: panelA, letter: "a)", letterX: 148, letterY: 266, labels: [{ t: "DSOW", x: 155, y: 226, c: "#fff" }, { t: "Central Waters", x: 645, y: 172, c: "#000" }], dash: [dashAKm, dashADepth] },
  { id: "b", cols: panelB, letter: "b)", letterX: 148, letterY: 497, labels: [{ t: "SAIW", x: 658, y: 333, c: "#000" }, { t: "ISOW", x: 237, y: 433, c: "#fff" }], dash: null },
  { id: "c", cols: panelC, letter: "c)", letterX: 150, letterY: 732, labels: [{ t: "IcSPMW", x: 545, y: 572, c: "#000" }], dash: null },
  { id: "d", cols: panelD, letter: "d)", letterX: 148, letterY: 962, labels: [{ t: "IrSPMW", x: 290, y: 803, c: "#000" }, { t: "MW", x: 743, y: 860, c: "#fff" }], dash: null },
  { id: "e", cols: panelE, letter: "e)", letterX: 148, letterY: 1195, labels: [{ t: "LSW", x: 750, y: 1143, c: "#fff" }], dash: [dashEKm, dashEDepth] },
  { id: "f", cols: panelF, letter: "f)", letterX: 152, letterY: 1425, labels: [{ t: "PIW", x: 140, y: 1288, c: "#000" }, { t: "NEADWL", x: 741, y: 1403, c: "#fff" }], dash: null },
];

const font = "'Liberation Sans', Arial, sans-serif";
const boldItalic = { fontFamily: font, fontWeight: 700, fontStyle: "italic" } as const;

function flatten(cols: Profile[]) {
  const out: number[] = [];
  depthRows.forEach((d) => {
    cols.forEach((col) => {
      let v = 0;
      for (const r of depthRows) {
        if (r > d) break;
        if (col[r] !== undefined) v = col[r];
      }
      out.push(v / 100);
    });
  });
  return out;
}

function Panel({ p, index }: { p: (typeof panels)[number]; index: number }) {
  const top = panelTops[index];
  const x = d3.scaleLinear().domain([3410, 0]).range([plotLeft, plotRight]);
  const y = d3.scaleLinear().domain([0, 5.55]).range([top, top + panelHeight]);
  const color = d3.scaleLinear<string>().domain(colorStops).range(colorValues).interpolate(d3.interpolateRgb);
  const xi = d3.scaleLinear().domain(d3.range(sectionKm.length)).range(sectionKm.map((k) => x(k)));
  const yi = d3.scaleLinear().domain(d3.range(depthRows.length)).range(depthRows.map((r) => y(r)));

  const values = flatten(p.cols);
  const contours = d3.contours().size([sectionKm.length, depthRows.length]).smooth(true);
  const path = d3.geoPath(
    d3.geoTransform({
      point(px, py) {
        this.stream.point(xi(px - 0.5), yi(py - 0.5));
      },
    }),
  );
  const fillLevels = d3.range(0.02, 1, 0.02);
  const area = d3
    .area<number>()
    .x((_, i) => x(bathyKm[i]))
    .y0(top + panelHeight)
    .y1((d) => y(d));
  const dashLine = d3.line<number>().x((_, i) => x(p.dash![0][i])).y((d) => y(d));
  const barY = d3.scaleLinear().domain([0, 1]).range([top + 204, top]);
  const barRect = d3.scaleLinear().domain([0, 1]).range([top + 206, top]);
  const barX0 = 847;
  const barX1 = 870;

  return (
    <g>
      <clipPath id={"clip-" + p.id}>
        <rect x={plotLeft} y={top} width={plotRight - plotLeft} height={panelHeight} />
      </clipPath>
      <rect x={plotLeft} y={top} width={plotRight - plotLeft} height={panelHeight} fill={color(0)} />
      <g clipPath={`url(#clip-${p.id})`}>
        {fillLevels.map((t) => (
          <path key={t} d={path(contours.contour(values, t)) || ""} fill={color(t + 0.01)} stroke={color(t + 0.01)} strokeWidth={0.3} />
        ))}
        {contourLevels.map((t) => (
          <path key={t} d={path(contours.contour(values, t)) || ""} fill="none" stroke="#111" strokeWidth={1.1} />
        ))}
        {[2, 4].map((d) => (
          <line key={d} x1={plotLeft} x2={plotRight} y1={y(d)} y2={y(d)} stroke="#555" strokeWidth={0.8} />
        ))}
        {[3000, 2000, 1000].map((k) => (
          <line key={k} x1={x(k)} x2={x(k)} y1={top} y2={top + panelHeight} stroke="#555" strokeWidth={0.8} />
        ))}
        <path d={area(bathyDepth) || ""} fill="#000" />
      </g>
      <rect x={plotLeft} y={top} width={plotRight - plotLeft} height={panelHeight} fill="none" stroke="#555" strokeWidth={1} />

      {lonKm.map((k) => (
        <line key={k} x1={x(k)} x2={x(k)} y1={top + 3} y2={top + panelHeight - 1} stroke="#868686" strokeWidth={5.5} strokeDasharray="5.5 11.6" strokeLinecap="round" />
      ))}
      {p.dash && <path d={dashLine(p.dash[1]) || ""} fill="none" stroke="#444" strokeWidth={6} strokeDasharray="24 12.7" strokeLinecap="round" />}

      {/* depth axis */}
      <text transform={`translate(35,${top + 103}) rotate(-90)`} textAnchor="middle" fontSize={30} {...boldItalic}>
        Depth (km)
      </text>
      {depthTicks.map((d) => (
        <text key={d} x={76} y={y(d)} dy="0.35em" textAnchor="end" fontSize={27} {...boldItalic}>
          {d}
        </text>
      ))}

      {/* colour bar */}
      <path
        d={`M${barX0},${barRect(1)}L${(barX0 + barX1) / 2},${barRect(1) - 3}L${barX1},${barRect(1)}V${barRect(0)}L${(barX0 + barX1) / 2},${barRect(0) + 3}L${barX0},${barRect(0)}Z`}
        fill={`url(#bar-grad)`}
        stroke="#999"
        strokeWidth={0.7}
      />
      {barTicks.map((t) => (
        <g key={t}>
          <line x1={barX0 - 2} x2={barX0 + 1} y1={barRect(t)} y2={barRect(t)} stroke="#666" strokeWidth={0.7} />
          <line x1={barX1 - 1} x2={barX1 + 2} y1={barRect(t)} y2={barRect(t)} stroke="#666" strokeWidth={0.7} />
          <text x={880} y={barY(t)} dy="0.35em" fontSize={28} {...boldItalic}>
            {t}
          </text>
        </g>
      ))}
      <text transform={`translate(846,${top + 118}) rotate(-90)`} textAnchor="middle" fontSize={15} fontFamily={font} fontWeight={700}>
        Ocean Data View / DIVA
      </text>

      {/* water mass names */}
      {p.labels.map((l) => (
        <text key={l.t} x={l.x} y={l.y} dy="0.35em" textAnchor="middle" fontSize={31} fill={l.c} {...boldItalic}>
          {l.t}
        </text>
      ))}
      <text x={p.letterX} y={p.letterY} dy="0.35em" textAnchor="middle" fontSize={28} fill="#fff" {...boldItalic}>
        {p.letter}
      </text>
    </g>
  );
}

export default function App() {
  const x = d3.scaleLinear().domain([3410, 0]).range([plotLeft, plotRight]);
  const color = d3.scaleLinear<string>().domain(colorStops).range(colorValues).interpolate(d3.interpolateRgb);
  const bottom = panelTops[5] + panelHeight;
  return (
    <svg width={918} height={1528} viewBox="0 0 918 1528" style={{ position: "absolute", left: 0, top: 0, display: "block", background: "#fff" }}>
      <defs>
        <linearGradient id="bar-grad" x1="0" y1="1" x2="0" y2="0">
          {d3.range(0, 1.001, 0.02).map((t) => (
            <stop key={t} offset={t} stopColor={color(t)} />
          ))}
        </linearGradient>
      </defs>

      <text x={457} y={34} textAnchor="middle" fontSize={31.3} {...boldItalic}>
        Distance from Iberian Peninsula (km)
      </text>
      {distanceTicks.map((k) => (
        <text key={k} x={x(k)} y={65} textAnchor="middle" fontSize={25} {...boldItalic}>
          {k}
        </text>
      ))}
      {[...distanceTicks, ...distanceMinor].map((k) => (
        <line key={k} x1={x(k)} x2={x(k)} y1={panelTops[0] - 5} y2={panelTops[0]} stroke="#555" strokeWidth={0.8} />
      ))}

      {panels.map((p, i) => (
        <Panel key={p.id} p={p} index={i} />
      ))}

      {lonLabels.map((l, i) => (
        <text key={l} x={x(lonLabelKm[i])} y={bottom + 34} textAnchor="middle" fontSize={26} {...boldItalic}>
          {l}
        </text>
      ))}
      <text x={453} y={1522} textAnchor="middle" fontSize={26} {...boldItalic}>
        Longitude
      </text>
    </svg>
  );
}
